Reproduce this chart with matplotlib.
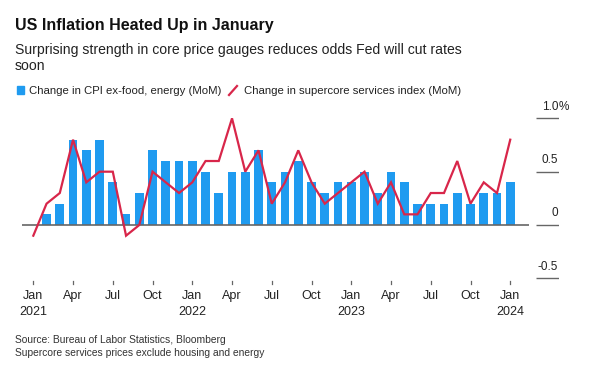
import numpy as np
import matplotlib
matplotlib.use('Agg')
import matplotlib.pyplot as plt
from matplotlib.lines import Line2D
from matplotlib.patches import Rectangle

# monthly data, Jan 2021 .. Jan 2024
months = np.arange(37)
core_cpi = [0.0, 0.1, 0.2, 0.8, 0.7, 0.8, 0.4, 0.1, 0.3, 0.7, 0.6, 0.6,
            0.6, 0.5, 0.3, 0.5, 0.5, 0.7, 0.4, 0.5, 0.6, 0.4, 0.3, 0.4,
            0.4, 0.5, 0.3, 0.5, 0.4, 0.2, 0.2, 0.2, 0.3, 0.2, 0.3, 0.3,
            0.4]
supercore = [-0.1, 0.2, 0.3, 0.8, 0.4, 0.5, 0.5, -0.1, 0.0, 0.5, 0.4, 0.3,
             0.4, 0.6, 0.6, 1.0, 0.5, 0.7, 0.2, 0.4, 0.7, 0.4, 0.2, 0.3,
             0.4, 0.5, 0.2, 0.4, 0.1, 0.1, 0.3, 0.3, 0.6, 0.2, 0.4, 0.3,
             0.8]
tick_pos = list(range(0, 37, 3))
tick_labels = ['Jan\n2021', 'Apr', 'Jul', 'Oct', 'Jan\n2022', 'Apr', 'Jul', 'Oct',
               'Jan\n2023', 'Apr', 'Jul', 'Oct', 'Jan\n2024']
y_ticks = [-0.5, 0, 0.5, 1.0]
y_labels = ['-0.5', '0', '0.5', '1.0']

blue = '#1f9bf0'
red = '#d8264a'
grey = '#666666'

plt.rcParams['font.family'] = ['Liberation Sans', 'DejaVu Sans']

W, H = 605, 371
fig = plt.figure(figsize=(W / 100, H / 100), dpi=100)

def fx(x):
    return x / W

def fy(y):
    return 1 - y / H

# axes placed in pixel terms
ax = fig.add_axes([fx(22), fy(280.7), fx(559) - fx(22), fy(100) - fy(280.7)])
ax.set_xlim(-0.853, 39.68)
ax.set_ylim(-0.522, 1.172)
ax.axis('off')

ax.bar(months, core_cpi, width=0.66, color=blue, zorder=2)
ax.hlines(0, -0.853, 37.4, color=grey, lw=1.2, zorder=3)
ax.plot(months, supercore, color=red, lw=1.6, zorder=4, solid_joinstyle='miter')

# right-hand value axis: short segments with labels above
for yv, lab in zip(y_ticks, y_labels):
    ax.hlines(yv, 37.94, 39.68, color=grey, lw=1.0)
    ax.annotate(lab, (39.62, yv), xytext=(0, 4), textcoords='offset points',
                ha='right', va='bottom', fontsize=8.5, color='#222222')
ax.annotate('%', (39.62, y_ticks[-1]), xytext=(0, 4), textcoords='offset points',
            ha='left', va='bottom', fontsize=8.5, color='#222222')

# x ticks drawn by hand below the plot
for p, lab in zip(tick_pos, tick_labels):
    ax.plot([p, p], [-0.522, -0.556], color=grey, lw=0.9, clip_on=False)
    ax.annotate(lab, (p, -0.522), xytext=(0, -7), textcoords='offset points',
                ha='center', va='top', fontsize=9, color='#222222',
                linespacing=1.35, annotation_clip=False)

fig.text(fx(15), fy(30), 'US Inflation Heated Up in January', fontsize=11.5,
         fontweight='bold', color='#111111', va='baseline')
fig.text(fx(15), fy(54), 'Surprising strength in core price gauges reduces odds Fed will cut rates',
         fontsize=10.1, color='#222222', va='baseline')
fig.text(fx(15), fy(70.5), 'soon', fontsize=10.1, color='#222222', va='baseline')

# legend
fig.patches.append(Rectangle((fx(17), fy(94)), fx(7), fy(86) - fy(94), color=blue,
                             transform=fig.transFigure, figure=fig))
fig.lines.append(Line2D([fx(229), fx(237)], [fy(95), fy(86)], color=red, lw=1.6,
                        transform=fig.transFigure, figure=fig))
fig.text(fx(29), fy(94), 'Change in CPI ex-food, energy (MoM)', fontsize=8.2,
         color='#222222', va='baseline')
fig.text(fx(244), fy(94), 'Change in supercore services index (MoM)', fontsize=8.2,
         color='#222222', va='baseline')

fig.text(fx(15), fy(343), 'Source: Bureau of Labor Statistics, Bloomberg', fontsize=7.4,
         color='#333333', va='baseline')
fig.text(fx(15), fy(356), 'Supercore services prices exclude housing and energy', fontsize=7.4,
         color='#333333', va='baseline')

fig.savefig('out.png', dpi=100, facecolor='white')
